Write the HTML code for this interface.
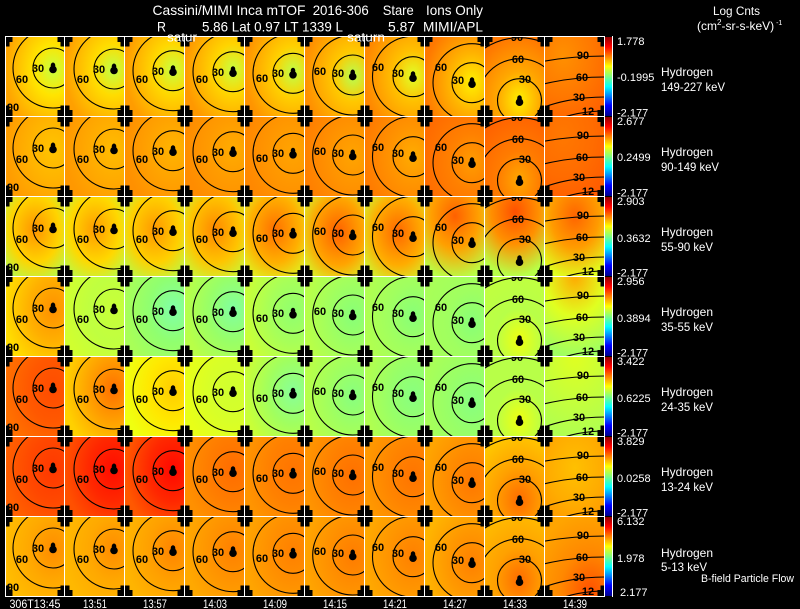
<!DOCTYPE html>
<html><head><meta charset="utf-8"><style>
html,body{margin:0;padding:0;background:#000;width:800px;height:609px;overflow:hidden}
svg{display:block;overflow:hidden}
.l{font-family:"Liberation Sans",sans-serif;font-size:11px;font-weight:bold;fill:#000;text-anchor:middle}
.w{font-family:"Liberation Sans",sans-serif;fill:#fff}
</style></head><body>
<svg width="800" height="609" viewBox="0 0 800 609" xmlns="http://www.w3.org/2000/svg" xmlns:xlink="http://www.w3.org/1999/xlink">
<rect width="800" height="609" fill="#000"/>
<defs>
<clipPath id="p"><rect width="60" height="80"/></clipPath>
<clipPath id="pa"><rect x="5" y="36" width="600" height="560"/></clipPath>
<g id="s"><circle cx="0" cy="1.5" r="3.8"/><ellipse cx="0" cy="-2.5" rx="2.3" ry="3"/></g>
<g id="k0"><g fill="none" stroke="#000" stroke-width="1.1"><circle cx="48" cy="32" r="20"/><circle cx="48" cy="32" r="40"/></g><use href="#s" x="48" y="32"/></g>
<g id="k1"><g fill="none" stroke="#000" stroke-width="1.1"><circle cx="49" cy="33" r="20"/><circle cx="49" cy="33" r="40"/></g><use href="#s" x="49" y="33"/></g>
<g id="k2"><g fill="none" stroke="#000" stroke-width="1.1"><circle cx="48" cy="34.7" r="20"/><circle cx="48" cy="34.7" r="40"/></g><use href="#s" x="48" y="34.7"/></g>
<g id="k3"><g fill="none" stroke="#000" stroke-width="1.1"><circle cx="48" cy="35.7" r="20"/><circle cx="48" cy="35.7" r="40"/></g><use href="#s" x="48" y="35.7"/></g>
<g id="k4"><g fill="none" stroke="#000" stroke-width="1.1"><circle cx="48" cy="37.3" r="20"/><circle cx="48" cy="37.3" r="40"/></g><use href="#s" x="48" y="37.3"/></g>
<g id="k5"><g fill="none" stroke="#000" stroke-width="1.1"><circle cx="47.7" cy="39" r="20"/><circle cx="47.7" cy="39" r="40"/></g><use href="#s" x="47.7" y="39"/></g>
<g id="k6"><g fill="none" stroke="#000" stroke-width="1.1"><circle cx="48" cy="40.7" r="20"/><circle cx="48" cy="40.7" r="40.5"/></g><use href="#s" x="48" y="40.7"/></g>
<g id="k7"><g fill="none" stroke="#000" stroke-width="1.1"><circle cx="47" cy="46.7" r="20"/><circle cx="47" cy="46.7" r="39"/></g><use href="#s" x="47" y="46.7"/></g>
<g id="k8"><g fill="none" stroke="#000" stroke-width="1.1"><circle cx="34.5" cy="64.7" r="22"/><circle cx="34.5" cy="64.7" r="42"/><circle cx="34.5" cy="64.7" r="63"/></g><use href="#s" x="34.5" y="64.7"/></g>
<g id="k9"><g fill="none" stroke="#000" stroke-width="1.1"><ellipse cx="60" cy="112" rx="74" ry="37"/><ellipse cx="60" cy="112" rx="102" ry="51"/><ellipse cx="60" cy="112" rx="142" ry="71"/><ellipse cx="60" cy="112" rx="184" ry="92"/></g></g>
<pattern id="mk" x="5" y="36" width="60" height="80" patternUnits="userSpaceOnUse">
<path d="M-7.5 -6h15v12h-15zM-4.5 -10.5h9v21h-9zM52.5 -6h15v12h-15zM55.5 -10.5h9v21h-9zM-7.5 74h15v12h-15zM-4.5 69.5h9v21h-9zM52.5 74h15v12h-15zM55.5 69.5h9v21h-9z" fill="#000"/>
</pattern>
<linearGradient id="jet" x1="0" y1="0" x2="0" y2="1">
<stop offset="0" stop-color="#900000"/><stop offset=".12" stop-color="#ff0000"/><stop offset=".37" stop-color="#ffff00"/><stop offset=".5" stop-color="#80ff80"/><stop offset=".63" stop-color="#00ffff"/><stop offset=".87" stop-color="#0000ff"/><stop offset="1" stop-color="#000090"/>
</linearGradient>
<!-- row 1 -->
<radialGradient id="g00" cx=".8" cy=".42" r=".8"><stop offset="0" stop-color="#c8ff40"/><stop offset=".4" stop-color="#ffe400"/><stop offset="1" stop-color="#ffa400"/></radialGradient>
<radialGradient id="g01" cx=".8" cy=".42" r=".8"><stop offset="0" stop-color="#c0ff48"/><stop offset=".4" stop-color="#ffdc00"/><stop offset="1" stop-color="#ffa000"/></radialGradient>
<radialGradient id="g02" cx=".8" cy=".42" r=".8"><stop offset="0" stop-color="#c8ff40"/><stop offset=".4" stop-color="#ffd800"/><stop offset="1" stop-color="#ff9c00"/></radialGradient>
<radialGradient id="g03" cx=".8" cy=".42" r=".8"><stop offset="0" stop-color="#c8ff40"/><stop offset=".4" stop-color="#ffd400"/><stop offset="1" stop-color="#ff9800"/></radialGradient>
<radialGradient id="g04" cx=".8" cy=".45" r=".8"><stop offset="0" stop-color="#c0ff48"/><stop offset=".4" stop-color="#ffd000"/><stop offset="1" stop-color="#ff9400"/></radialGradient>
<radialGradient id="g05" cx=".8" cy=".5" r=".8"><stop offset="0" stop-color="#b8ff50"/><stop offset=".4" stop-color="#ffc800"/><stop offset="1" stop-color="#ff9000"/></radialGradient>
<radialGradient id="g06" cx=".8" cy=".5" r=".8"><stop offset="0" stop-color="#e0ff28"/><stop offset=".4" stop-color="#ffc000"/><stop offset="1" stop-color="#ff8800"/></radialGradient>
<radialGradient id="g07" cx=".78" cy=".58" r=".8"><stop offset="0" stop-color="#fff000"/><stop offset=".45" stop-color="#ffb400"/><stop offset="1" stop-color="#ff7800"/></radialGradient>
<radialGradient id="g08" cx=".57" cy=".8" r=".8"><stop offset="0" stop-color="#fff000"/><stop offset=".45" stop-color="#ffa800"/><stop offset="1" stop-color="#ff7800"/></radialGradient>
<radialGradient id="g09" cx=".3" cy=".25" r="1"><stop offset="0" stop-color="#ff9000"/><stop offset=".5" stop-color="#ff7800"/><stop offset="1" stop-color="#ff5c00"/></radialGradient>
<!-- row 2 -->
<radialGradient id="g10" cx=".8" cy=".42" r=".8"><stop offset="0" stop-color="#ffc400"/><stop offset=".45" stop-color="#ffb400"/><stop offset="1" stop-color="#ff9c00"/></radialGradient>
<radialGradient id="g11" cx=".8" cy=".42" r=".8"><stop offset="0" stop-color="#ffbc00"/><stop offset=".45" stop-color="#ffac00"/><stop offset="1" stop-color="#ff9800"/></radialGradient>
<radialGradient id="g12" cx=".8" cy=".42" r=".8"><stop offset="0" stop-color="#ffb400"/><stop offset=".45" stop-color="#ffa400"/><stop offset="1" stop-color="#ff9000"/></radialGradient>
<radialGradient id="g13" cx=".8" cy=".42" r=".8"><stop offset="0" stop-color="#ffac00"/><stop offset=".45" stop-color="#ff9c00"/><stop offset="1" stop-color="#ff8c00"/></radialGradient>
<radialGradient id="g14" cx=".8" cy=".45" r=".8"><stop offset="0" stop-color="#ffa400"/><stop offset=".45" stop-color="#ff9800"/><stop offset="1" stop-color="#ff8800"/></radialGradient>
<radialGradient id="g15" cx=".8" cy=".5" r=".8"><stop offset="0" stop-color="#ffa400"/><stop offset=".45" stop-color="#ff9400"/><stop offset="1" stop-color="#ff8000"/></radialGradient>
<radialGradient id="g16" cx=".8" cy=".5" r=".8"><stop offset="0" stop-color="#ffac00"/><stop offset=".45" stop-color="#ff9400"/><stop offset="1" stop-color="#ff7c00"/></radialGradient>
<radialGradient id="g17" cx=".78" cy=".58" r=".8"><stop offset="0" stop-color="#ff9c00"/><stop offset=".45" stop-color="#ff8000"/><stop offset="1" stop-color="#ff6c00"/></radialGradient>
<radialGradient id="g18" cx=".57" cy=".8" r=".8"><stop offset="0" stop-color="#ffa800"/><stop offset=".45" stop-color="#ff7c00"/><stop offset="1" stop-color="#ff6400"/></radialGradient>
<radialGradient id="g19" cx=".3" cy=".25" r="1"><stop offset="0" stop-color="#ff7800"/><stop offset=".5" stop-color="#ff6c00"/><stop offset="1" stop-color="#ff5800"/></radialGradient>
<!-- row 3 -->
<radialGradient id="g20" cx=".5" cy=".42" r=".75"><stop offset="0" stop-color="#ff9400"/><stop offset=".55" stop-color="#ffd400"/><stop offset="1" stop-color="#a8ff58"/></radialGradient>
<radialGradient id="g21" cx=".5" cy=".42" r=".75"><stop offset="0" stop-color="#ff9c00"/><stop offset=".55" stop-color="#ffd800"/><stop offset="1" stop-color="#b0ff50"/></radialGradient>
<radialGradient id="g22" cx=".5" cy=".42" r=".75"><stop offset="0" stop-color="#ff9800"/><stop offset=".55" stop-color="#ffd000"/><stop offset="1" stop-color="#b0ff50"/></radialGradient>
<radialGradient id="g23" cx=".5" cy=".42" r=".75"><stop offset="0" stop-color="#ff8800"/><stop offset=".55" stop-color="#ffc400"/><stop offset="1" stop-color="#c0ff40"/></radialGradient>
<radialGradient id="g24" cx=".5" cy=".42" r=".75"><stop offset="0" stop-color="#ff7000"/><stop offset=".55" stop-color="#ffb000"/><stop offset="1" stop-color="#d8ff28"/></radialGradient>
<radialGradient id="g25" cx=".55" cy=".45" r=".75"><stop offset="0" stop-color="#ff6000"/><stop offset=".55" stop-color="#ffa400"/><stop offset="1" stop-color="#d0ff30"/></radialGradient>
<radialGradient id="g26" cx=".55" cy=".45" r=".75"><stop offset="0" stop-color="#ff6800"/><stop offset=".55" stop-color="#ffac00"/><stop offset="1" stop-color="#c8ff38"/></radialGradient>
<radialGradient id="g27" cx=".5" cy=".25" r=".8"><stop offset="0" stop-color="#ff6000"/><stop offset=".5" stop-color="#ffa000"/><stop offset="1" stop-color="#b8ff48"/></radialGradient>
<radialGradient id="g28" cx=".5" cy=".2" r=".8"><stop offset="0" stop-color="#ff5000"/><stop offset=".5" stop-color="#ff9000"/><stop offset="1" stop-color="#b8ff48"/></radialGradient>
<radialGradient id="g29" cx=".5" cy=".25" r=".8"><stop offset="0" stop-color="#ff6400"/><stop offset=".5" stop-color="#ff9c00"/><stop offset="1" stop-color="#e0ff20"/></radialGradient>
<!-- row 4 -->
<radialGradient id="g30" cx=".8" cy=".42" r=".8"><stop offset="0" stop-color="#ff9000"/><stop offset=".5" stop-color="#ffb000"/><stop offset="1" stop-color="#ffdc00"/></radialGradient>
<radialGradient id="g31" cx=".8" cy=".42" r=".8"><stop offset="0" stop-color="#c8ff38"/><stop offset=".5" stop-color="#c0ff40"/><stop offset="1" stop-color="#d0ff30"/></radialGradient>
<radialGradient id="g32" cx=".8" cy=".42" r=".8"><stop offset="0" stop-color="#80ffa8"/><stop offset=".5" stop-color="#90ff70"/><stop offset="1" stop-color="#a8ff58"/></radialGradient>
<radialGradient id="g33" cx=".8" cy=".42" r=".8"><stop offset="0" stop-color="#80ffa0"/><stop offset=".5" stop-color="#98ff68"/><stop offset="1" stop-color="#b8ff48"/></radialGradient>
<radialGradient id="g34" cx=".8" cy=".45" r=".8"><stop offset="0" stop-color="#90ff70"/><stop offset=".5" stop-color="#a8ff58"/><stop offset="1" stop-color="#c8ff38"/></radialGradient>
<radialGradient id="g35" cx=".8" cy=".5" r=".8"><stop offset="0" stop-color="#88ff78"/><stop offset=".5" stop-color="#a0ff60"/><stop offset="1" stop-color="#b8ff48"/></radialGradient>
<radialGradient id="g36" cx=".8" cy=".5" r=".8"><stop offset="0" stop-color="#88ff78"/><stop offset=".5" stop-color="#a0ff60"/><stop offset="1" stop-color="#b0ff50"/></radialGradient>
<radialGradient id="g37" cx=".78" cy=".58" r=".8"><stop offset="0" stop-color="#88ff78"/><stop offset=".5" stop-color="#a0ff60"/><stop offset="1" stop-color="#a8ff58"/></radialGradient>
<radialGradient id="g38" cx=".57" cy=".8" r=".8"><stop offset="0" stop-color="#f0ff10"/><stop offset=".5" stop-color="#b8ff48"/><stop offset="1" stop-color="#c0ff40"/></radialGradient>
<radialGradient id="g39" cx=".5" cy="0" r="1"><stop offset="0" stop-color="#ffa800"/><stop offset=".5" stop-color="#e0ff20"/><stop offset="1" stop-color="#a0ff60"/></radialGradient>
<!-- row 5 -->
<radialGradient id="g40" cx=".8" cy=".42" r=".8"><stop offset="0" stop-color="#ff4c00"/><stop offset=".5" stop-color="#ff5800"/><stop offset="1" stop-color="#ff7000"/></radialGradient>
<radialGradient id="g41" cx=".8" cy=".42" r=".8"><stop offset="0" stop-color="#ff7000"/><stop offset=".5" stop-color="#ffa000"/><stop offset="1" stop-color="#ffd000"/></radialGradient>
<radialGradient id="g42" cx=".8" cy=".42" r=".8"><stop offset="0" stop-color="#ffcc00"/><stop offset=".5" stop-color="#ffe800"/><stop offset="1" stop-color="#f0ff10"/></radialGradient>
<radialGradient id="g43" cx=".8" cy=".42" r=".8"><stop offset="0" stop-color="#d0ff30"/><stop offset=".5" stop-color="#d8ff28"/><stop offset="1" stop-color="#e8ff18"/></radialGradient>
<radialGradient id="g44" cx=".8" cy=".45" r=".8"><stop offset="0" stop-color="#88ff98"/><stop offset=".5" stop-color="#a0ff60"/><stop offset="1" stop-color="#c8ff38"/></radialGradient>
<radialGradient id="g45" cx=".8" cy=".5" r=".8"><stop offset="0" stop-color="#88ff80"/><stop offset=".5" stop-color="#a0ff60"/><stop offset="1" stop-color="#b8ff48"/></radialGradient>
<radialGradient id="g46" cx=".8" cy=".5" r=".8"><stop offset="0" stop-color="#88ff80"/><stop offset=".5" stop-color="#98ff68"/><stop offset="1" stop-color="#b0ff50"/></radialGradient>
<radialGradient id="g47" cx=".78" cy=".58" r=".8"><stop offset="0" stop-color="#88ff80"/><stop offset=".5" stop-color="#98ff68"/><stop offset="1" stop-color="#a8ff58"/></radialGradient>
<radialGradient id="g48" cx=".57" cy=".8" r=".8"><stop offset="0" stop-color="#f0ff10"/><stop offset=".5" stop-color="#b8ff48"/><stop offset="1" stop-color="#b8ff48"/></radialGradient>
<radialGradient id="g49" cx=".5" cy="0" r="1"><stop offset="0" stop-color="#e0ff20"/><stop offset=".5" stop-color="#c8ff38"/><stop offset="1" stop-color="#b0ff50"/></radialGradient>
<!-- row 6 -->
<radialGradient id="g50" cx=".8" cy=".42" r=".8"><stop offset="0" stop-color="#ff3800"/><stop offset=".5" stop-color="#ff4800"/><stop offset="1" stop-color="#ff6000"/></radialGradient>
<radialGradient id="g51" cx=".8" cy=".42" r=".8"><stop offset="0" stop-color="#ff0c00"/><stop offset=".5" stop-color="#ff2800"/><stop offset="1" stop-color="#ff5000"/></radialGradient>
<radialGradient id="g52" cx=".8" cy=".42" r=".8"><stop offset="0" stop-color="#ff0800"/><stop offset=".5" stop-color="#ff2800"/><stop offset="1" stop-color="#ff5800"/></radialGradient>
<radialGradient id="g53" cx=".8" cy=".42" r=".8"><stop offset="0" stop-color="#ff6c00"/><stop offset=".5" stop-color="#ff7c00"/><stop offset="1" stop-color="#ff9000"/></radialGradient>
<radialGradient id="g54" cx=".8" cy=".45" r=".8"><stop offset="0" stop-color="#ff7400"/><stop offset=".5" stop-color="#ff8000"/><stop offset="1" stop-color="#ff9400"/></radialGradient>
<radialGradient id="g55" cx=".8" cy=".5" r=".8"><stop offset="0" stop-color="#ff7000"/><stop offset=".5" stop-color="#ff8000"/><stop offset="1" stop-color="#ff9400"/></radialGradient>
<radialGradient id="g56" cx=".8" cy=".5" r=".8"><stop offset="0" stop-color="#ff7400"/><stop offset=".5" stop-color="#ff8400"/><stop offset="1" stop-color="#ff9800"/></radialGradient>
<radialGradient id="g57" cx=".78" cy=".58" r=".8"><stop offset="0" stop-color="#ff7800"/><stop offset=".5" stop-color="#ff8c00"/><stop offset="1" stop-color="#ffa400"/></radialGradient>
<radialGradient id="g58" cx=".57" cy=".8" r=".8"><stop offset="0" stop-color="#ff6c00"/><stop offset=".5" stop-color="#ffa000"/><stop offset="1" stop-color="#ffc400"/></radialGradient>
<radialGradient id="g59" cx=".5" cy=".4" r=".9"><stop offset="0" stop-color="#ffc000"/><stop offset=".5" stop-color="#ffac00"/><stop offset="1" stop-color="#ff9000"/></radialGradient>
<!-- row 7 -->
<radialGradient id="g60" cx=".8" cy=".42" r=".8"><stop offset="0" stop-color="#ff8c00"/><stop offset=".5" stop-color="#ffa800"/><stop offset="1" stop-color="#ffbc00"/></radialGradient>
<radialGradient id="g61" cx=".8" cy=".42" r=".8"><stop offset="0" stop-color="#ff8c00"/><stop offset=".5" stop-color="#ffa800"/><stop offset="1" stop-color="#ffb800"/></radialGradient>
<radialGradient id="g62" cx=".8" cy=".42" r=".8"><stop offset="0" stop-color="#ff8400"/><stop offset=".5" stop-color="#ffa000"/><stop offset="1" stop-color="#ffb400"/></radialGradient>
<radialGradient id="g63" cx=".8" cy=".42" r=".8"><stop offset="0" stop-color="#ff8000"/><stop offset=".5" stop-color="#ff9400"/><stop offset="1" stop-color="#ffa800"/></radialGradient>
<radialGradient id="g64" cx=".8" cy=".45" r=".8"><stop offset="0" stop-color="#ff8000"/><stop offset=".5" stop-color="#ff9000"/><stop offset="1" stop-color="#ffa400"/></radialGradient>
<radialGradient id="g65" cx=".8" cy=".5" r=".8"><stop offset="0" stop-color="#ff7c00"/><stop offset=".5" stop-color="#ff9000"/><stop offset="1" stop-color="#ffa400"/></radialGradient>
<radialGradient id="g66" cx=".8" cy=".5" r=".8"><stop offset="0" stop-color="#ff8000"/><stop offset=".5" stop-color="#ff9400"/><stop offset="1" stop-color="#ffa800"/></radialGradient>
<radialGradient id="g67" cx=".78" cy=".58" r=".8"><stop offset="0" stop-color="#ff8000"/><stop offset=".5" stop-color="#ff9800"/><stop offset="1" stop-color="#ffb400"/></radialGradient>
<radialGradient id="g68" cx=".57" cy=".8" r=".8"><stop offset="0" stop-color="#ff6c00"/><stop offset=".5" stop-color="#ffa000"/><stop offset="1" stop-color="#ffb800"/></radialGradient>
<radialGradient id="g69" cx=".75" cy=".95" r="1"><stop offset="0" stop-color="#ff5000"/><stop offset=".5" stop-color="#ff8800"/><stop offset="1" stop-color="#ffa400"/></radialGradient>
</defs>

<!-- panel fills -->
<rect x="5" y="36" width="60" height="80" fill="url(#g00)"/><rect x="65" y="36" width="60" height="80" fill="url(#g01)"/><rect x="125" y="36" width="60" height="80" fill="url(#g02)"/><rect x="185" y="36" width="60" height="80" fill="url(#g03)"/><rect x="245" y="36" width="60" height="80" fill="url(#g04)"/><rect x="305" y="36" width="60" height="80" fill="url(#g05)"/><rect x="365" y="36" width="60" height="80" fill="url(#g06)"/><rect x="425" y="36" width="60" height="80" fill="url(#g07)"/><rect x="485" y="36" width="60" height="80" fill="url(#g08)"/><rect x="545" y="36" width="60" height="80" fill="url(#g09)"/>
<rect x="5" y="116" width="60" height="80" fill="url(#g10)"/><rect x="65" y="116" width="60" height="80" fill="url(#g11)"/><rect x="125" y="116" width="60" height="80" fill="url(#g12)"/><rect x="185" y="116" width="60" height="80" fill="url(#g13)"/><rect x="245" y="116" width="60" height="80" fill="url(#g14)"/><rect x="305" y="116" width="60" height="80" fill="url(#g15)"/><rect x="365" y="116" width="60" height="80" fill="url(#g16)"/><rect x="425" y="116" width="60" height="80" fill="url(#g17)"/><rect x="485" y="116" width="60" height="80" fill="url(#g18)"/><rect x="545" y="116" width="60" height="80" fill="url(#g19)"/>
<rect x="5" y="196" width="60" height="80" fill="url(#g20)"/><rect x="65" y="196" width="60" height="80" fill="url(#g21)"/><rect x="125" y="196" width="60" height="80" fill="url(#g22)"/><rect x="185" y="196" width="60" height="80" fill="url(#g23)"/><rect x="245" y="196" width="60" height="80" fill="url(#g24)"/><rect x="305" y="196" width="60" height="80" fill="url(#g25)"/><rect x="365" y="196" width="60" height="80" fill="url(#g26)"/><rect x="425" y="196" width="60" height="80" fill="url(#g27)"/><rect x="485" y="196" width="60" height="80" fill="url(#g28)"/><rect x="545" y="196" width="60" height="80" fill="url(#g29)"/>
<rect x="5" y="276" width="60" height="80" fill="url(#g30)"/><rect x="65" y="276" width="60" height="80" fill="url(#g31)"/><rect x="125" y="276" width="60" height="80" fill="url(#g32)"/><rect x="185" y="276" width="60" height="80" fill="url(#g33)"/><rect x="245" y="276" width="60" height="80" fill="url(#g34)"/><rect x="305" y="276" width="60" height="80" fill="url(#g35)"/><rect x="365" y="276" width="60" height="80" fill="url(#g36)"/><rect x="425" y="276" width="60" height="80" fill="url(#g37)"/><rect x="485" y="276" width="60" height="80" fill="url(#g38)"/><rect x="545" y="276" width="60" height="80" fill="url(#g39)"/>
<rect x="5" y="356" width="60" height="80" fill="url(#g40)"/><rect x="65" y="356" width="60" height="80" fill="url(#g41)"/><rect x="125" y="356" width="60" height="80" fill="url(#g42)"/><rect x="185" y="356" width="60" height="80" fill="url(#g43)"/><rect x="245" y="356" width="60" height="80" fill="url(#g44)"/><rect x="305" y="356" width="60" height="80" fill="url(#g45)"/><rect x="365" y="356" width="60" height="80" fill="url(#g46)"/><rect x="425" y="356" width="60" height="80" fill="url(#g47)"/><rect x="485" y="356" width="60" height="80" fill="url(#g48)"/><rect x="545" y="356" width="60" height="80" fill="url(#g49)"/>
<rect x="5" y="436" width="60" height="80" fill="url(#g50)"/><rect x="65" y="436" width="60" height="80" fill="url(#g51)"/><rect x="125" y="436" width="60" height="80" fill="url(#g52)"/><rect x="185" y="436" width="60" height="80" fill="url(#g53)"/><rect x="245" y="436" width="60" height="80" fill="url(#g54)"/><rect x="305" y="436" width="60" height="80" fill="url(#g55)"/><rect x="365" y="436" width="60" height="80" fill="url(#g56)"/><rect x="425" y="436" width="60" height="80" fill="url(#g57)"/><rect x="485" y="436" width="60" height="80" fill="url(#g58)"/><rect x="545" y="436" width="60" height="80" fill="url(#g59)"/>
<rect x="5" y="516" width="60" height="80" fill="url(#g60)"/><rect x="65" y="516" width="60" height="80" fill="url(#g61)"/><rect x="125" y="516" width="60" height="80" fill="url(#g62)"/><rect x="185" y="516" width="60" height="80" fill="url(#g63)"/><rect x="245" y="516" width="60" height="80" fill="url(#g64)"/><rect x="305" y="516" width="60" height="80" fill="url(#g65)"/><rect x="365" y="516" width="60" height="80" fill="url(#g66)"/><rect x="425" y="516" width="60" height="80" fill="url(#g67)"/><rect x="485" y="516" width="60" height="80" fill="url(#g68)"/><rect x="545" y="516" width="60" height="80" fill="url(#g69)"/>

<!-- corner markers -->
<rect x="5" y="36" width="600" height="560" fill="url(#mk)" clip-path="url(#pa)"/>

<!-- contours + labels, per row -->
<g transform="translate(5,36)" clip-path="url(#p)"><use href="#k0"/><text class="l" x="33" y="36">30</text><text class="l" x="17" y="47">60</text><text class="l" x="8" y="75">90</text></g>
<g transform="translate(65,36)" clip-path="url(#p)"><use href="#k1"/><text class="l" x="34" y="37">30</text><text class="l" x="18" y="47">60</text></g>
<g transform="translate(125,36)" clip-path="url(#p)"><use href="#k2"/><text class="l" x="33" y="39">30</text><text class="l" x="17" y="47">60</text></g>
<g transform="translate(185,36)" clip-path="url(#p)"><use href="#k3"/><text class="l" x="33" y="40">30</text><text class="l" x="17" y="47">60</text></g>
<g transform="translate(245,36)" clip-path="url(#p)"><use href="#k4"/><text class="l" x="33" y="41">30</text><text class="l" x="17" y="46">60</text></g>
<g transform="translate(305,36)" clip-path="url(#p)"><use href="#k5"/><text class="l" x="33" y="41">30</text><text class="l" x="15" y="39">60</text></g>
<g transform="translate(365,36)" clip-path="url(#p)"><use href="#k6"/><text class="l" x="33" y="41">30</text><text class="l" x="13" y="35">60</text></g>
<g transform="translate(425,36)" clip-path="url(#p)"><use href="#k7"/><text class="l" x="33" y="48">30</text><text class="l" x="16" y="35">60</text></g>
<g transform="translate(485,36)" clip-path="url(#p)"><use href="#k8"/><text class="l" x="40" y="47">30</text><text class="l" x="33" y="27">60</text><text class="l" x="32" y="5">90</text></g>
<g transform="translate(545,36)" clip-path="url(#p)"><use href="#k9"/><text class="l" x="38" y="23">90</text><text class="l" x="37" y="45">60</text><text class="l" x="34" y="65">30</text><text class="l" x="43" y="79">12</text></g>

<g transform="translate(5,116)" clip-path="url(#p)"><use href="#k0"/><text class="l" x="33" y="36">30</text><text class="l" x="17" y="47">60</text><text class="l" x="8" y="75">90</text></g>
<g transform="translate(65,116)" clip-path="url(#p)"><use href="#k1"/><text class="l" x="34" y="37">30</text><text class="l" x="18" y="47">60</text></g>
<g transform="translate(125,116)" clip-path="url(#p)"><use href="#k2"/><text class="l" x="33" y="39">30</text><text class="l" x="17" y="47">60</text></g>
<g transform="translate(185,116)" clip-path="url(#p)"><use href="#k3"/><text class="l" x="33" y="40">30</text><text class="l" x="17" y="47">60</text></g>
<g transform="translate(245,116)" clip-path="url(#p)"><use href="#k4"/><text class="l" x="33" y="41">30</text><text class="l" x="17" y="46">60</text></g>
<g transform="translate(305,116)" clip-path="url(#p)"><use href="#k5"/><text class="l" x="33" y="41">30</text><text class="l" x="15" y="39">60</text></g>
<g transform="translate(365,116)" clip-path="url(#p)"><use href="#k6"/><text class="l" x="33" y="41">30</text><text class="l" x="13" y="35">60</text></g>
<g transform="translate(425,116)" clip-path="url(#p)"><use href="#k7"/><text class="l" x="33" y="48">30</text><text class="l" x="16" y="35">60</text></g>
<g transform="translate(485,116)" clip-path="url(#p)"><use href="#k8"/><text class="l" x="40" y="47">30</text><text class="l" x="33" y="27">60</text><text class="l" x="32" y="5">90</text></g>
<g transform="translate(545,116)" clip-path="url(#p)"><use href="#k9"/><text class="l" x="38" y="23">90</text><text class="l" x="37" y="45">60</text><text class="l" x="34" y="65">30</text><text class="l" x="43" y="79">12</text></g>

<g transform="translate(5,196)" clip-path="url(#p)"><use href="#k0"/><text class="l" x="33" y="36">30</text><text class="l" x="17" y="47">60</text><text class="l" x="8" y="75">90</text></g>
<g transform="translate(65,196)" clip-path="url(#p)"><use href="#k1"/><text class="l" x="34" y="37">30</text><text class="l" x="18" y="47">60</text></g>
<g transform="translate(125,196)" clip-path="url(#p)"><use href="#k2"/><text class="l" x="33" y="39">30</text><text class="l" x="17" y="47">60</text></g>
<g transform="translate(185,196)" clip-path="url(#p)"><use href="#k3"/><text class="l" x="33" y="40">30</text><text class="l" x="17" y="47">60</text></g>
<g transform="translate(245,196)" clip-path="url(#p)"><use href="#k4"/><text class="l" x="33" y="41">30</text><text class="l" x="17" y="46">60</text></g>
<g transform="translate(305,196)" clip-path="url(#p)"><use href="#k5"/><text class="l" x="33" y="41">30</text><text class="l" x="15" y="39">60</text></g>
<g transform="translate(365,196)" clip-path="url(#p)"><use href="#k6"/><text class="l" x="33" y="41">30</text><text class="l" x="13" y="35">60</text></g>
<g transform="translate(425,196)" clip-path="url(#p)"><use href="#k7"/><text class="l" x="33" y="48">30</text><text class="l" x="16" y="35">60</text></g>
<g transform="translate(485,196)" clip-path="url(#p)"><use href="#k8"/><text class="l" x="40" y="47">30</text><text class="l" x="33" y="27">60</text><text class="l" x="32" y="5">90</text></g>
<g transform="translate(545,196)" clip-path="url(#p)"><use href="#k9"/><text class="l" x="38" y="23">90</text><text class="l" x="37" y="45">60</text><text class="l" x="34" y="65">30</text><text class="l" x="43" y="79">12</text></g>

<g transform="translate(5,276)" clip-path="url(#p)"><use href="#k0"/><text class="l" x="33" y="36">30</text><text class="l" x="17" y="47">60</text><text class="l" x="8" y="75">90</text></g>
<g transform="translate(65,276)" clip-path="url(#p)"><use href="#k1"/><text class="l" x="34" y="37">30</text><text class="l" x="18" y="47">60</text></g>
<g transform="translate(125,276)" clip-path="url(#p)"><use href="#k2"/><text class="l" x="33" y="39">30</text><text class="l" x="17" y="47">60</text></g>
<g transform="translate(185,276)" clip-path="url(#p)"><use href="#k3"/><text class="l" x="33" y="40">30</text><text class="l" x="17" y="47">60</text></g>
<g transform="translate(245,276)" clip-path="url(#p)"><use href="#k4"/><text class="l" x="33" y="41">30</text><text class="l" x="17" y="46">60</text></g>
<g transform="translate(305,276)" clip-path="url(#p)"><use href="#k5"/><text class="l" x="33" y="41">30</text><text class="l" x="15" y="39">60</text></g>
<g transform="translate(365,276)" clip-path="url(#p)"><use href="#k6"/><text class="l" x="33" y="41">30</text><text class="l" x="13" y="35">60</text></g>
<g transform="translate(425,276)" clip-path="url(#p)"><use href="#k7"/><text class="l" x="33" y="48">30</text><text class="l" x="16" y="35">60</text></g>
<g transform="translate(485,276)" clip-path="url(#p)"><use href="#k8"/><text class="l" x="40" y="47">30</text><text class="l" x="33" y="27">60</text><text class="l" x="32" y="5">90</text></g>
<g transform="translate(545,276)" clip-path="url(#p)"><use href="#k9"/><text class="l" x="38" y="23">90</text><text class="l" x="37" y="45">60</text><text class="l" x="34" y="65">30</text><text class="l" x="43" y="79">12</text></g>

<g transform="translate(5,356)" clip-path="url(#p)"><use href="#k0"/><text class="l" x="33" y="36">30</text><text class="l" x="17" y="47">60</text><text class="l" x="8" y="75">90</text></g>
<g transform="translate(65,356)" clip-path="url(#p)"><use href="#k1"/><text class="l" x="34" y="37">30</text><text class="l" x="18" y="47">60</text></g>
<g transform="translate(125,356)" clip-path="url(#p)"><use href="#k2"/><text class="l" x="33" y="39">30</text><text class="l" x="17" y="47">60</text></g>
<g transform="translate(185,356)" clip-path="url(#p)"><use href="#k3"/><text class="l" x="33" y="40">30</text><text class="l" x="17" y="47">60</text></g>
<g transform="translate(245,356)" clip-path="url(#p)"><use href="#k4"/><text class="l" x="33" y="41">30</text><text class="l" x="17" y="46">60</text></g>
<g transform="translate(305,356)" clip-path="url(#p)"><use href="#k5"/><text class="l" x="33" y="41">30</text><text class="l" x="15" y="39">60</text></g>
<g transform="translate(365,356)" clip-path="url(#p)"><use href="#k6"/><text class="l" x="33" y="41">30</text><text class="l" x="13" y="35">60</text></g>
<g transform="translate(425,356)" clip-path="url(#p)"><use href="#k7"/><text class="l" x="33" y="48">30</text><text class="l" x="16" y="35">60</text></g>
<g transform="translate(485,356)" clip-path="url(#p)"><use href="#k8"/><text class="l" x="40" y="47">30</text><text class="l" x="33" y="27">60</text><text class="l" x="32" y="5">90</text></g>
<g transform="translate(545,356)" clip-path="url(#p)"><use href="#k9"/><text class="l" x="38" y="23">90</text><text class="l" x="37" y="45">60</text><text class="l" x="34" y="65">30</text><text class="l" x="43" y="79">12</text></g>

<g transform="translate(5,436)" clip-path="url(#p)"><use href="#k0"/><text class="l" x="33" y="36">30</text><text class="l" x="17" y="47">60</text><text class="l" x="8" y="75">90</text></g>
<g transform="translate(65,436)" clip-path="url(#p)"><use href="#k1"/><text class="l" x="34" y="37">30</text><text class="l" x="18" y="47">60</text></g>
<g transform="translate(125,436)" clip-path="url(#p)"><use href="#k2"/><text class="l" x="33" y="39">30</text><text class="l" x="17" y="47">60</text></g>
<g transform="translate(185,436)" clip-path="url(#p)"><use href="#k3"/><text class="l" x="33" y="40">30</text><text class="l" x="17" y="47">60</text></g>
<g transform="translate(245,436)" clip-path="url(#p)"><use href="#k4"/><text class="l" x="33" y="41">30</text><text class="l" x="17" y="46">60</text></g>
<g transform="translate(305,436)" clip-path="url(#p)"><use href="#k5"/><text class="l" x="33" y="41">30</text><text class="l" x="15" y="39">60</text></g>
<g transform="translate(365,436)" clip-path="url(#p)"><use href="#k6"/><text class="l" x="33" y="41">30</text><text class="l" x="13" y="35">60</text></g>
<g transform="translate(425,436)" clip-path="url(#p)"><use href="#k7"/><text class="l" x="33" y="48">30</text><text class="l" x="16" y="35">60</text></g>
<g transform="translate(485,436)" clip-path="url(#p)"><use href="#k8"/><text class="l" x="40" y="47">30</text><text class="l" x="33" y="27">60</text><text class="l" x="32" y="5">90</text></g>
<g transform="translate(545,436)" clip-path="url(#p)"><use href="#k9"/><text class="l" x="38" y="23">90</text><text class="l" x="37" y="45">60</text><text class="l" x="34" y="65">30</text><text class="l" x="43" y="79">12</text></g>

<g transform="translate(5,516)" clip-path="url(#p)"><use href="#k0"/><text class="l" x="33" y="36">30</text><text class="l" x="17" y="47">60</text><text class="l" x="8" y="75">90</text></g>
<g transform="translate(65,516)" clip-path="url(#p)"><use href="#k1"/><text class="l" x="34" y="37">30</text><text class="l" x="18" y="47">60</text></g>
<g transform="translate(125,516)" clip-path="url(#p)"><use href="#k2"/><text class="l" x="33" y="39">30</text><text class="l" x="17" y="47">60</text></g>
<g transform="translate(185,516)" clip-path="url(#p)"><use href="#k3"/><text class="l" x="33" y="40">30</text><text class="l" x="17" y="47">60</text></g>
<g transform="translate(245,516)" clip-path="url(#p)"><use href="#k4"/><text class="l" x="33" y="41">30</text><text class="l" x="17" y="46">60</text></g>
<g transform="translate(305,516)" clip-path="url(#p)"><use href="#k5"/><text class="l" x="33" y="41">30</text><text class="l" x="15" y="39">60</text></g>
<g transform="translate(365,516)" clip-path="url(#p)"><use href="#k6"/><text class="l" x="33" y="41">30</text><text class="l" x="13" y="35">60</text></g>
<g transform="translate(425,516)" clip-path="url(#p)"><use href="#k7"/><text class="l" x="33" y="48">30</text><text class="l" x="16" y="35">60</text></g>
<g transform="translate(485,516)" clip-path="url(#p)"><use href="#k8"/><text class="l" x="40" y="47">30</text><text class="l" x="33" y="27">60</text><text class="l" x="32" y="5">90</text></g>
<g transform="translate(545,516)" clip-path="url(#p)"><use href="#k9"/><text class="l" x="38" y="23">90</text><text class="l" x="37" y="45">60</text><text class="l" x="34" y="65">30</text><text class="l" x="43" y="79">12</text></g>

<!-- white grid -->
<g stroke="#fff" stroke-width="1">
<path d="M5.5 36V596M64.5 36V596M124.5 36V596M184.5 36V596M244.5 36V596M304.5 36V596M364.5 36V596M424.5 36V596M484.5 36V596M544.5 36V596M604.5 36V596"/>
<path d="M5 36.5H605M5 116.5H605M5 196.5H605M5 276.5H605M5 356.5H605M5 436.5H605M5 516.5H605M5 596.5H605"/>
</g>

<!-- colorbars -->
<g fill="url(#jet)">
<rect x="605" y="37" width="7" height="79"/>
<rect x="605" y="117" width="7" height="79"/>
<rect x="605" y="197" width="7" height="79"/>
<rect x="605" y="277" width="7" height="79"/>
<rect x="605" y="357" width="7" height="79"/>
<rect x="605" y="437" width="7" height="79"/>
<rect x="605" y="517" width="7" height="79"/>
</g>
<path d="M612.5 36V597" stroke="#fff"/>

<!-- title -->
<g class="w" font-size="14">
<text x="152.5" y="15" textLength="153" lengthAdjust="spacingAndGlyphs">Cassini/MIMI Inca mTOF</text>
<text x="312.7" y="15" textLength="56" lengthAdjust="spacingAndGlyphs">2016-306</text>
<text x="382.7" y="15" textLength="31" lengthAdjust="spacingAndGlyphs">Stare</text>
<text x="426" y="15" textLength="57" lengthAdjust="spacingAndGlyphs">Ions Only</text>
<text x="157" y="31.5" textLength="9" lengthAdjust="spacingAndGlyphs">R</text>
<text x="202" y="31.5" textLength="141" lengthAdjust="spacingAndGlyphs">5.86 Lat 0.97 LT 1339 L</text>
<text x="388" y="31.5" textLength="27" lengthAdjust="spacingAndGlyphs">5.87</text>
<text x="423" y="31.5" textLength="60" lengthAdjust="spacingAndGlyphs">MIMI/APL</text>
</g>
<g class="w" font-size="13">
<text x="167" y="41.5" textLength="30" lengthAdjust="spacingAndGlyphs">satur</text>
<text x="347" y="41.5" textLength="38" lengthAdjust="spacingAndGlyphs">saturn</text>
</g>

<!-- right header -->
<g class="w" font-size="12">
<text x="713" y="15" textLength="47" lengthAdjust="spacingAndGlyphs">Log Cnts</text>
<text x="697" y="30">(cm<tspan font-size="8" dy="-5">2</tspan><tspan dy="5">-sr-s-keV)</tspan><tspan font-size="7" dy="-5"> -1</tspan></text>
</g>

<!-- colorbar labels -->
<g class="w" font-size="11">
<text x="617" y="45">1.778</text><text x="617" y="81">-0.1995</text><text x="617" y="116.5">-2.177</text>
<text x="617" y="125">2.677</text><text x="617" y="161">0.2499</text><text x="617" y="196.5">-2.177</text>
<text x="617" y="205">2.903</text><text x="617" y="242">0.3632</text><text x="617" y="276.5">-2.177</text>
<text x="617" y="285">2.956</text><text x="617" y="322">0.3894</text><text x="617" y="356.5">-2.177</text>
<text x="617" y="365">3.422</text><text x="617" y="402">0.6225</text><text x="617" y="436.5">-2.177</text>
<text x="617" y="445">3.829</text><text x="617" y="482">0.0258</text><text x="617" y="516.5">-2.177</text>
<text x="617" y="525">6.132</text><text x="617" y="562">1.978</text><text x="620" y="596">2.177</text>
</g>

<!-- species labels -->
<g class="w" font-size="12">
<text x="661" y="76">Hydrogen</text><text x="661" y="91" textLength="64" lengthAdjust="spacingAndGlyphs">149-227 keV</text>
<text x="661" y="156">Hydrogen</text><text x="661" y="171" textLength="58" lengthAdjust="spacingAndGlyphs">90-149 keV</text>
<text x="661" y="236">Hydrogen</text><text x="661" y="251" textLength="52" lengthAdjust="spacingAndGlyphs">55-90 keV</text>
<text x="661" y="316">Hydrogen</text><text x="661" y="331" textLength="52" lengthAdjust="spacingAndGlyphs">35-55 keV</text>
<text x="661" y="396">Hydrogen</text><text x="661" y="411" textLength="52" lengthAdjust="spacingAndGlyphs">24-35 keV</text>
<text x="661" y="476">Hydrogen</text><text x="661" y="491" textLength="52" lengthAdjust="spacingAndGlyphs">13-24 keV</text>
<text x="661" y="557">Hydrogen</text><text x="661" y="571" textLength="46" lengthAdjust="spacingAndGlyphs">5-13 keV</text>
</g>
<text class="w" font-size="11" x="701" y="582" textLength="93" lengthAdjust="spacingAndGlyphs">B-field Particle Flow</text>

<!-- time labels -->
<g class="w" font-size="12" text-anchor="middle">
<text x="35" y="608" textLength="51" lengthAdjust="spacingAndGlyphs">306T13:45</text>
<text x="95" y="608" textLength="24" lengthAdjust="spacingAndGlyphs">13:51</text>
<text x="155" y="608" textLength="24" lengthAdjust="spacingAndGlyphs">13:57</text>
<text x="215" y="608" textLength="24" lengthAdjust="spacingAndGlyphs">14:03</text>
<text x="275" y="608" textLength="24" lengthAdjust="spacingAndGlyphs">14:09</text>
<text x="335" y="608" textLength="24" lengthAdjust="spacingAndGlyphs">14:15</text>
<text x="395" y="608" textLength="24" lengthAdjust="spacingAndGlyphs">14:21</text>
<text x="455" y="608" textLength="24" lengthAdjust="spacingAndGlyphs">14:27</text>
<text x="515" y="608" textLength="24" lengthAdjust="spacingAndGlyphs">14:33</text>
<text x="575" y="608" textLength="24" lengthAdjust="spacingAndGlyphs">14:39</text>
</g>
</svg>
</body></html>
